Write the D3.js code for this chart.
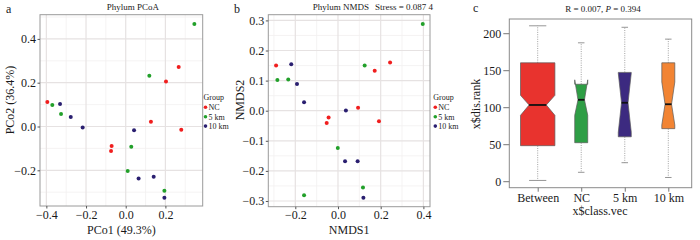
<!DOCTYPE html>
<html><head><meta charset="utf-8">
<script src="https://cdn.jsdelivr.net/npm/d3@7"></script>
<style>
html,body{margin:0;padding:0;background:#fff;}
svg{display:block;font-family:"Liberation Serif","Times New Roman",serif;}
</style></head>
<body><svg id="chart" width="700" height="240"></svg>
<script>
// ---------- DATA ----------
const groupNames = ["NC", "5 km", "10 km"];
const groupColors = ["#f01e1e", "#22a02a", "#2a1f70"];

// Panel a: PCoA [PCo1, PCo2]
const pcoaNC   = [[0.267,0.272],[0.203,0.205],[-0.395,0.112],[0.127,0.022],[0.280,-0.015],[-0.071,-0.089],[-0.074,-0.112]];
const pcoa5km  = [[0.346,0.468],[0.119,0.232],[-0.370,0.098],[-0.326,0.057],[0.028,-0.092],[0.010,-0.203],[0.195,-0.293]];
const pcoa10km = [[-0.331,0.103],[-0.277,0.043],[-0.217,-0.004],[0.042,-0.017],[0.065,-0.238],[0.141,-0.229],[0.195,-0.325]];
const pcoaXTicks = [-0.4, -0.2, 0.0, 0.2];
const pcoaYTicks = [-0.2, 0.0, 0.2, 0.4];

// Panel b: NMDS [NMDS1, NMDS2]
const nmdsNC   = [[0.244,0.160],[0.172,0.133],[-0.290,0.150],[0.094,0.010],[-0.044,-0.023],[-0.053,-0.041],[0.192,-0.035]];
const nmds5km  = [[0.397,0.288],[0.125,0.150],[-0.284,0.102],[-0.233,0.104],[-0.001,-0.124],[0.117,-0.255],[-0.159,-0.281]];
const nmds10km = [[-0.219,0.154],[-0.192,0.089],[-0.159,0.028],[0.037,0.001],[0.033,-0.168],[0.092,-0.168],[0.119,-0.289]];
const nmdsXTicks = [-0.2, 0.0, 0.2, 0.4];
const nmdsYTicks = [-0.3, -0.2, -0.1, 0.0, 0.1, 0.2, 0.3];

// Panel c: ANOSIM boxplot
const boxCategories = ["Between", "NC", "5 km", "10 km"];
const boxColors = ["#e8332e", "#2e9e45", "#3c2a80", "#f28433"];
const boxMin    = [1, 12, 25, 5];
const boxQ1     = [48, 52, 60, 71];
const boxMedian = [103, 110, 106, 104];
const boxQ3     = [160, 131, 147, 160];
const boxMax    = [210, 187, 208, 192];
const notchLow  = [89, 89, 66, 76];
const notchHigh = [116, 137, 146, 134];
const boxN      = [147, 21, 21, 21];
const boxYTicks = [0, 50, 100, 150, 200];

// ---------- DRAW ----------
const svg = d3.select("#chart");
const txt = "#1a1a1a";
const fmt = d => d === 0 ? "0.0" : d3.format(".1f")(d).replace("-", "\u2212");

function scatterPanel(cfg) {
  const g = svg.append("g");
  const x = d3.scaleLinear().domain(cfg.xDom).range([cfg.left, cfg.right]);
  const y = d3.scaleLinear().domain(cfg.yDom).range([cfg.bottom, cfg.top]);
  const xs = cfg.xTicks[1] - cfg.xTicks[0], ys = cfg.yTicks[1] - cfg.yTicks[0];
  const xMinor = cfg.xTicks.map(t => t - xs / 2).concat([cfg.xTicks[cfg.xTicks.length - 1] + xs / 2])
    .filter(v => v > cfg.xDom[0] && v < cfg.xDom[1]);
  const yMinor = cfg.yTicks.map(t => t - ys / 2).concat([cfg.yTicks[cfg.yTicks.length - 1] + ys / 2])
    .filter(v => v > cfg.yDom[0] && v < cfg.yDom[1]);
  g.selectAll(".vmin").data(xMinor).join("line")
    .attr("x1", d => x(d)).attr("x2", d => x(d)).attr("y1", cfg.top).attr("y2", cfg.bottom)
    .attr("stroke", "#f3f0f0").attr("stroke-width", 0.8);
  g.selectAll(".hmin").data(yMinor).join("line")
    .attr("y1", d => y(d)).attr("y2", d => y(d)).attr("x1", cfg.left).attr("x2", cfg.right)
    .attr("stroke", "#f3f0f0").attr("stroke-width", 0.8);
  g.selectAll(".vmaj").data(cfg.xTicks).join("line")
    .attr("x1", d => x(d)).attr("x2", d => x(d)).attr("y1", cfg.top).attr("y2", cfg.bottom)
    .attr("stroke", "#e6e2e2").attr("stroke-width", 1.2);
  g.selectAll(".hmaj").data(cfg.yTicks).join("line")
    .attr("y1", d => y(d)).attr("y2", d => y(d)).attr("x1", cfg.left).attr("x2", cfg.right)
    .attr("stroke", "#e6e2e2").attr("stroke-width", 1.2);
  cfg.series.forEach((s, i) => {
    g.selectAll(null).data(s).join("circle")
      .attr("cx", d => x(d[0])).attr("cy", d => y(d[1])).attr("r", 2)
      .attr("fill", groupColors[i]);
  });
  g.append("rect").attr("x", cfg.left).attr("y", cfg.top)
    .attr("width", cfg.right - cfg.left).attr("height", cfg.bottom - cfg.top)
    .attr("fill", "none").attr("stroke", "#9a9a9a").attr("stroke-width", 1);
  const xa = g.append("g").attr("transform", `translate(0,${cfg.bottom})`)
    .call(d3.axisBottom(x).tickValues(cfg.xTicks).tickFormat(fmt).tickSize(2.5).tickPadding(1.5));
  const ya = g.append("g").attr("transform", `translate(${cfg.left},0)`)
    .call(d3.axisLeft(y).tickValues(cfg.yTicks).tickFormat(fmt).tickSize(2.5).tickPadding(1.5));
  [xa, ya].forEach(a => {
    a.attr("font-family", null).attr("font-size", null);
    a.select(".domain").remove();
    a.selectAll(".tick line").attr("stroke", "#555");
    a.selectAll(".tick text").attr("fill", txt).style("font-size", "12px")
      .style("font-family", '"Liberation Serif","Times New Roman",serif');
  });
  g.append("text").attr("x", (cfg.left + cfg.right) / 2).attr("y", 234)
    .attr("text-anchor", "middle").attr("fill", txt).style("font-size", "12px").text(cfg.xTitle);
  g.append("text").attr("transform", `translate(${cfg.yTitleX},100) rotate(-90)`)
    .attr("text-anchor", "middle").attr("fill", txt).style("font-size", "12px").text(cfg.yTitle);
  cfg.title.forEach(tt => {
    g.append("text").attr("x", tt[1]).attr("y", 10)
      .attr("text-anchor", "middle").attr("fill", txt).style("font-size", "9px").text(tt[0]);
  });
  g.append("text").attr("x", cfg.labelX).attr("y", 12.5).attr("fill", txt)
    .style("font-size", "12px").text(cfg.label);
  const lg = g.append("g");
  lg.append("text").attr("x", cfg.legX).attr("y", 100).attr("fill", txt)
    .style("font-size", "8px").text("Group");
  groupNames.forEach((n, i) => {
    const yy = 107.3 + i * 9.4;
    lg.append("circle").attr("cx", cfg.legX + 2).attr("cy", yy).attr("r", 1.8).attr("fill", groupColors[i]);
    lg.append("text").attr("x", cfg.legX + 5).attr("y", yy + 2.8).attr("fill", txt)
      .style("font-size", "8px").text(n);
  });
}

scatterPanel({
  left: 40, right: 202.7, top: 14.7, bottom: 206,
  xDom: [-0.432, 0.388], yDom: [-0.363, 0.5105],
  xTicks: pcoaXTicks, yTicks: pcoaYTicks,
  series: [pcoaNC, pcoa5km, pcoa10km],
  xTitle: "PCo1 (49.3%)", yTitle: "PCo2 (36.4%)", yTitleX: 14,
  title: [["Phylum PCoA", 133]], label: "a", labelX: 6, legX: 203.5
});
scatterPanel({
  left: 268.3, right: 430, top: 14.7, bottom: 206.7,
  xDom: [-0.3265, 0.431], yDom: [-0.319, 0.319],
  xTicks: nmdsXTicks, yTicks: nmdsYTicks,
  series: [nmdsNC, nmds5km, nmds10km],
  xTitle: "NMDS1", yTitle: "NMDS2", yTitleX: 244,
  title: [["Phylum NMDS", 341], ["Stress = 0.087 4", 404]], label: "b", labelX: 234, legX: 433.3
});

// ---------- Panel c ----------
(function () {
  const left = 509.3, right = 691.7, top = 19, bottom = 187.7;
  const g = svg.append("g");
  const y = d3.scaleLinear().domain([-8.8, 219.2]).range([bottom, top]);
  const x = d3.scaleLinear().domain([1, 4]).range([537.7, 668.3]);
  const maxW = 34.4, nMax = d3.max(boxN);
  const data = boxCategories.map((c, i) => ({
    c, i, min: boxMin[i], q1: boxQ1[i], med: boxMedian[i], q3: boxQ3[i], max: boxMax[i],
    nlo: notchLow[i], nhi: notchHigh[i], w: maxW * Math.sqrt(boxN[i] / nMax), col: boxColors[i]
  }));
  data.forEach(d => {
    const cx = x(d.i + 1), hw = d.w / 2, xl = cx - hw, xr = cx + hw, inset = d.w / 4;
    [[d.q3, d.max], [d.q1, d.min]].forEach(([a, b]) => {
      g.append("line").attr("x1", cx).attr("x2", cx).attr("y1", y(a)).attr("y2", y(b))
        .attr("stroke", "#8a8a8a").attr("stroke-width", 0.8).attr("stroke-dasharray", "1,1.3");
    });
    [d.max, d.min].forEach(v => {
      g.append("line").attr("x1", cx - hw / 2).attr("x2", cx + hw / 2).attr("y1", y(v)).attr("y2", y(v))
        .attr("stroke", "#8a8a8a").attr("stroke-width", 0.9);
    });
    const pts = [[xl, d.q1], [xl, d.nlo], [xl + inset, d.med], [xl, d.nhi], [xl, d.q3],
                 [xr, d.q3], [xr, d.nhi], [xr - inset, d.med], [xr, d.nlo], [xr, d.q1]];
    g.append("polygon").attr("points", pts.map(p => `${p[0]},${y(p[1])}`).join(" "))
      .attr("fill", d.col).attr("stroke", "#5a5a5a").attr("stroke-width", 0.7);
    g.append("line").attr("x1", xl + inset).attr("x2", xr - inset).attr("y1", y(d.med)).attr("y2", y(d.med))
      .attr("stroke", "#111").attr("stroke-width", 1.8);
  });
  g.append("rect").attr("x", left).attr("y", top).attr("width", right - left).attr("height", bottom - top)
    .attr("fill", "none").attr("stroke", "#8a8a8a").attr("stroke-width", 1);
  const ya = g.append("g").attr("transform", `translate(${left},0)`)
    .call(d3.axisLeft(y).tickValues(boxYTicks).tickSize(6).tickPadding(2));
  const xa = g.append("g").attr("transform", `translate(0,${bottom})`)
    .call(d3.axisBottom(x).tickValues([1, 2, 3, 4]).tickFormat((d) => boxCategories[d - 1]).tickSize(4).tickPadding(1.5));
  [xa, ya].forEach(a => {
    a.attr("font-family", null).attr("font-size", null);
    a.select(".domain").remove();
    a.selectAll(".tick line").attr("stroke", "#777");
    a.selectAll(".tick text").attr("fill", txt).style("font-size", "12px")
      .style("font-family", '"Liberation Serif","Times New Roman",serif');
  });
  g.append("text").attr("x", 600).attr("y", 215).attr("text-anchor", "middle").attr("fill", txt)
    .style("font-size", "12px").text("x$class.vec");
  g.append("text").attr("transform", "translate(480,104) rotate(-90)").attr("text-anchor", "middle")
    .attr("fill", txt).style("font-size", "12px").text("x$dis.rank");
  const t = g.append("text").attr("x", 603).attr("y", 12).attr("text-anchor", "middle").attr("fill", txt)
    .style("font-size", "9px");
  t.append("tspan").text("R = 0.007, ");
  t.append("tspan").style("font-style", "italic").text("P");
  t.append("tspan").text(" = 0.394");
  g.append("text").attr("x", 473).attr("y", 12).attr("fill", txt).style("font-size", "12px").text("c");
})();
</script></body></html>
